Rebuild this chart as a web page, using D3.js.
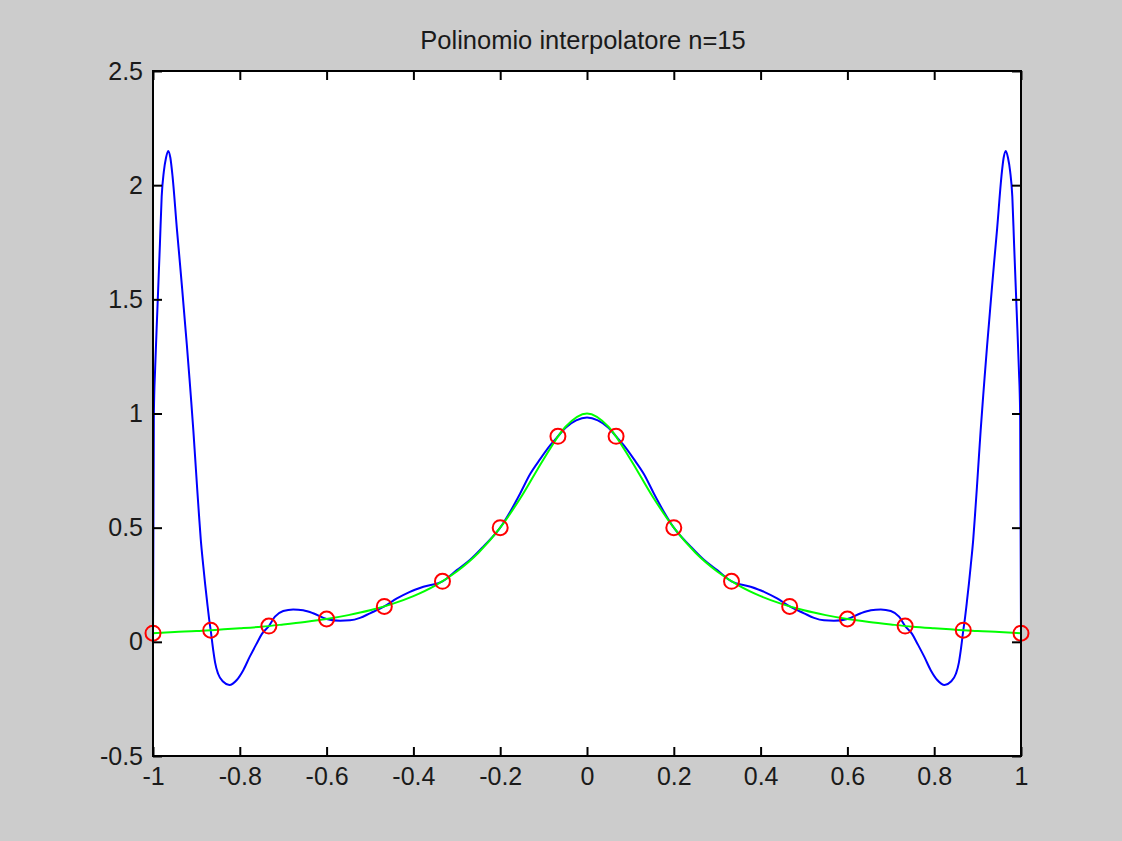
<!DOCTYPE html>
<html>
<head>
<meta charset="utf-8">
<script src="https://cdn.jsdelivr.net/npm/d3@7"></script>
<style>
    html, body { margin: 0; padding: 0; background: #cccccc; }
    svg { display: block; }
</style>
</head>
<body>
<div id="chartContainer"></div>
<script>
const chartTitle = 'Polinomio interpolatore n=15';

const xTickValues = [-1, -0.8, -0.6, -0.4, -0.2, 0, 0.2, 0.4, 0.6, 0.8, 1];
const xTickLabels = ['-1', '-0.8', '-0.6', '-0.4', '-0.2', '0', '0.2', '0.4', '0.6', '0.8', '1'];
const yTickValues = [-0.5, 0, 0.5, 1, 1.5, 2, 2.5];
const yTickLabels = ['-0.5', '0', '0.5', '1', '1.5', '2', '2.5'];

// interpolation nodes (red circles)
const nodeX = [-1, -0.867, -0.733, -0.6, -0.467, -0.333, -0.2, -0.067,
    0.067, 0.2, 0.333, 0.467, 0.6, 0.733, 0.867, 1];
const nodeY = [0.038, 0.051, 0.069, 0.1, 0.155, 0.265, 0.5, 0.9,
    0.9, 0.5, 0.265, 0.155, 0.1, 0.069, 0.051, 0.038];

// green curve
const greenX = [-1, -0.95, -0.9, -0.85, -0.8, -0.75, -0.7, -0.65, -0.6, -0.55, -0.5,
    -0.45, -0.4, -0.35, -0.3, -0.25, -0.2, -0.15, -0.1, -0.05, 0,
    0.05, 0.1, 0.15, 0.2, 0.25, 0.3, 0.35, 0.4, 0.45, 0.5,
    0.55, 0.6, 0.65, 0.7, 0.75, 0.8, 0.85, 0.9, 0.95, 1];
const greenY = [0.038, 0.043, 0.047, 0.053, 0.059, 0.066, 0.076, 0.087, 0.1, 0.117, 0.138,
    0.165, 0.2, 0.246, 0.308, 0.39, 0.5, 0.64, 0.8, 0.941, 1,
    0.941, 0.8, 0.64, 0.5, 0.39, 0.308, 0.246, 0.2, 0.165, 0.138,
    0.117, 0.1, 0.087, 0.076, 0.066, 0.059, 0.053, 0.047, 0.043, 0.038];

// blue curve (interpolating polynomial)
const blueX = [-1, -0.998, -0.995, -0.99, -0.984, -0.98, -0.975, -0.97, -0.965, -0.96, -0.955,
    -0.945, -0.938, -0.933, -0.926, -0.922, -0.916, -0.913, -0.907, -0.903, -0.898,
    -0.894, -0.89, -0.884, -0.88, -0.875, -0.871, -0.867, -0.861, -0.857, -0.85,
    -0.838, -0.824, -0.807, -0.792, -0.777, -0.761, -0.749, -0.733, -0.719, -0.7,
    -0.677, -0.654, -0.631, -0.6, -0.569, -0.546, -0.523, -0.5, -0.467, -0.438,
    -0.408, -0.377, -0.333, -0.3, -0.27, -0.239, -0.2, -0.177, -0.154, -0.131,
    -0.108, -0.085, -0.067, -0.048, -0.025, 0,
    0.025, 0.048, 0.067, 0.085, 0.108, 0.131, 0.154, 0.177, 0.2, 0.239,
    0.27, 0.3, 0.333, 0.377, 0.408, 0.438, 0.467, 0.5, 0.523, 0.546,
    0.569, 0.6, 0.631, 0.654, 0.677, 0.7, 0.719, 0.733, 0.749, 0.761,
    0.777, 0.792, 0.807, 0.824, 0.838, 0.85, 0.857, 0.861, 0.867, 0.871,
    0.875, 0.88, 0.884, 0.89, 0.894, 0.898, 0.903, 0.907, 0.913, 0.916,
    0.922, 0.926, 0.933, 0.938, 0.945, 0.955, 0.96, 0.965, 0.97, 0.975,
    0.98, 0.984, 0.99, 0.995, 0.998, 1];
const blueY = [0.04, 1.0, 1.2, 1.45, 1.745, 1.95, 2.06, 2.12, 2.15, 2.12, 2.04,
    1.81, 1.66, 1.55, 1.39, 1.3, 1.155, 1.08, 0.925, 0.81, 0.665,
    0.555, 0.45, 0.33, 0.255, 0.17, 0.105, 0.05, -0.04, -0.09, -0.14,
    -0.175, -0.189, -0.167, -0.124, -0.065, -0.007, 0.035, 0.069, 0.11, 0.135,
    0.142, 0.138, 0.125, 0.1, 0.092, 0.094, 0.105, 0.125, 0.155, 0.19,
    0.219, 0.241, 0.265, 0.314, 0.358, 0.417, 0.5, 0.57, 0.65, 0.735,
    0.8, 0.86, 0.9, 0.94, 0.97, 0.983,
    0.97, 0.94, 0.9, 0.86, 0.8, 0.735, 0.65, 0.57, 0.5, 0.417,
    0.358, 0.314, 0.265, 0.241, 0.219, 0.19, 0.155, 0.125, 0.105, 0.094,
    0.092, 0.1, 0.125, 0.138, 0.142, 0.135, 0.11, 0.069, 0.035, -0.007,
    -0.065, -0.124, -0.167, -0.189, -0.175, -0.14, -0.09, -0.04, 0.05, 0.105,
    0.17, 0.255, 0.33, 0.45, 0.555, 0.665, 0.81, 0.925, 1.08, 1.155,
    1.3, 1.39, 1.55, 1.66, 1.81, 2.04, 2.12, 2.15, 2.12, 2.06,
    1.95, 1.745, 1.45, 1.2, 1.0, 0.04];

function init(width, height) {
    const margin = { top: 71, right: 101, bottom: 85, left: 153 };

    const svg = d3.select('#chartContainer')
        .append('svg')
        .attr('width', width)
        .attr('height', height)
        .style('background', '#cccccc')
        .style('font-family', '"Liberation Sans", Arial, sans-serif');

    const scX = d3.scaleLinear()
        .domain([-1, 1])
        .range([margin.left, width - margin.right]);

    const scY = d3.scaleLinear()
        .domain([-0.5, 2.5])
        .range([height - margin.bottom, margin.top]);

    // axes box
    svg.append('rect')
        .attr('x', scX(-1))
        .attr('y', scY(2.5))
        .attr('width', scX(1) - scX(-1))
        .attr('height', scY(-0.5) - scY(2.5))
        .attr('fill', '#ffffff');

    const clip = svg.append('clipPath').attr('id', 'plotClip')
        .append('rect')
        .attr('x', scX(-1) - 2)
        .attr('y', scY(2.5))
        .attr('width', scX(1) - scX(-1) + 4)
        .attr('height', scY(-0.5) - scY(2.5));

    const plot = svg.append('g').attr('clip-path', 'url(#plotClip)');

    const blueData = blueX.map((x, i) => ({ x: x, y: blueY[i] }));
    const greenData = greenX.map((x, i) => ({ x: x, y: greenY[i] }));
    const nodeData = nodeX.map((x, i) => ({ x: x, y: nodeY[i] }));

    const lineMaker = d3.line()
        .x(d => scX(d.x))
        .y(d => scY(d.y))
        .curve(d3.curveMonotoneX);

    plot.append('path')
        .attr('fill', 'none')
        .attr('stroke', '#0000ff')
        .attr('stroke-width', 2)
        .attr('d', lineMaker(blueData));

    plot.append('path')
        .attr('fill', 'none')
        .attr('stroke', '#00ff00')
        .attr('stroke-width', 2)
        .attr('d', lineMaker(greenData));

    svg.append('g')
        .selectAll('circle')
        .data(nodeData)
        .enter()
        .append('circle')
        .attr('r', 7.5)
        .attr('fill', 'none')
        .attr('stroke', '#ff0000')
        .attr('stroke-width', 2)
        .attr('cx', d => scX(d.x))
        .attr('cy', d => scY(d.y));

    // ticks (inward, on all four sides)
    const tickLen = 9;
    const fontSize = 25;

    const xAxis = d3.axisBottom(scX)
        .tickValues(xTickValues)
        .tickFormat((d, i) => xTickLabels[i])
        .tickSizeInner(-tickLen)
        .tickSizeOuter(0)
        .tickPadding(11);

    const xAxisTop = d3.axisTop(scX)
        .tickValues(xTickValues)
        .tickFormat('')
        .tickSizeInner(-tickLen)
        .tickSizeOuter(0);

    const yAxis = d3.axisLeft(scY)
        .tickValues(yTickValues)
        .tickFormat((d, i) => yTickLabels[i])
        .tickSizeInner(-tickLen)
        .tickSizeOuter(0)
        .tickPadding(10);

    const yAxisRight = d3.axisRight(scY)
        .tickValues(yTickValues)
        .tickFormat('')
        .tickSizeInner(-tickLen)
        .tickSizeOuter(0);

    const axes = [
        [xAxis, `translate(0, ${scY(-0.5)})`],
        [xAxisTop, `translate(0, ${scY(2.5)})`],
        [yAxis, `translate(${scX(-1)}, 0)`],
        [yAxisRight, `translate(${scX(1)}, 0)`]
    ];

    axes.forEach(([ax, tr]) => {
        const g = svg.append('g')
            .attr('transform', tr)
            .call(ax);
        g.select('.domain').remove();
        g.selectAll('line').attr('stroke', '#000').attr('stroke-width', 2);
        g.selectAll('text')
            .attr('fill', '#1a1a1a')
            .style('font-size', fontSize + 'px')
            .style('font-family', '"Liberation Sans", Arial, sans-serif');
    });

    // frame
    svg.append('rect')
        .attr('x', scX(-1))
        .attr('y', scY(2.5))
        .attr('width', scX(1) - scX(-1))
        .attr('height', scY(-0.5) - scY(2.5))
        .attr('fill', 'none')
        .attr('stroke', '#000')
        .attr('stroke-width', 2);

    // title
    svg.append('text')
        .attr('x', (scX(-1) + scX(1)) / 2 - 4)
        .attr('y', 49)
        .attr('text-anchor', 'middle')
        .attr('fill', '#1a1a1a')
        .style('font-size', '25.5px')
        .text(chartTitle);
}

init(1122, 841);
</script>
</body>
</html>
